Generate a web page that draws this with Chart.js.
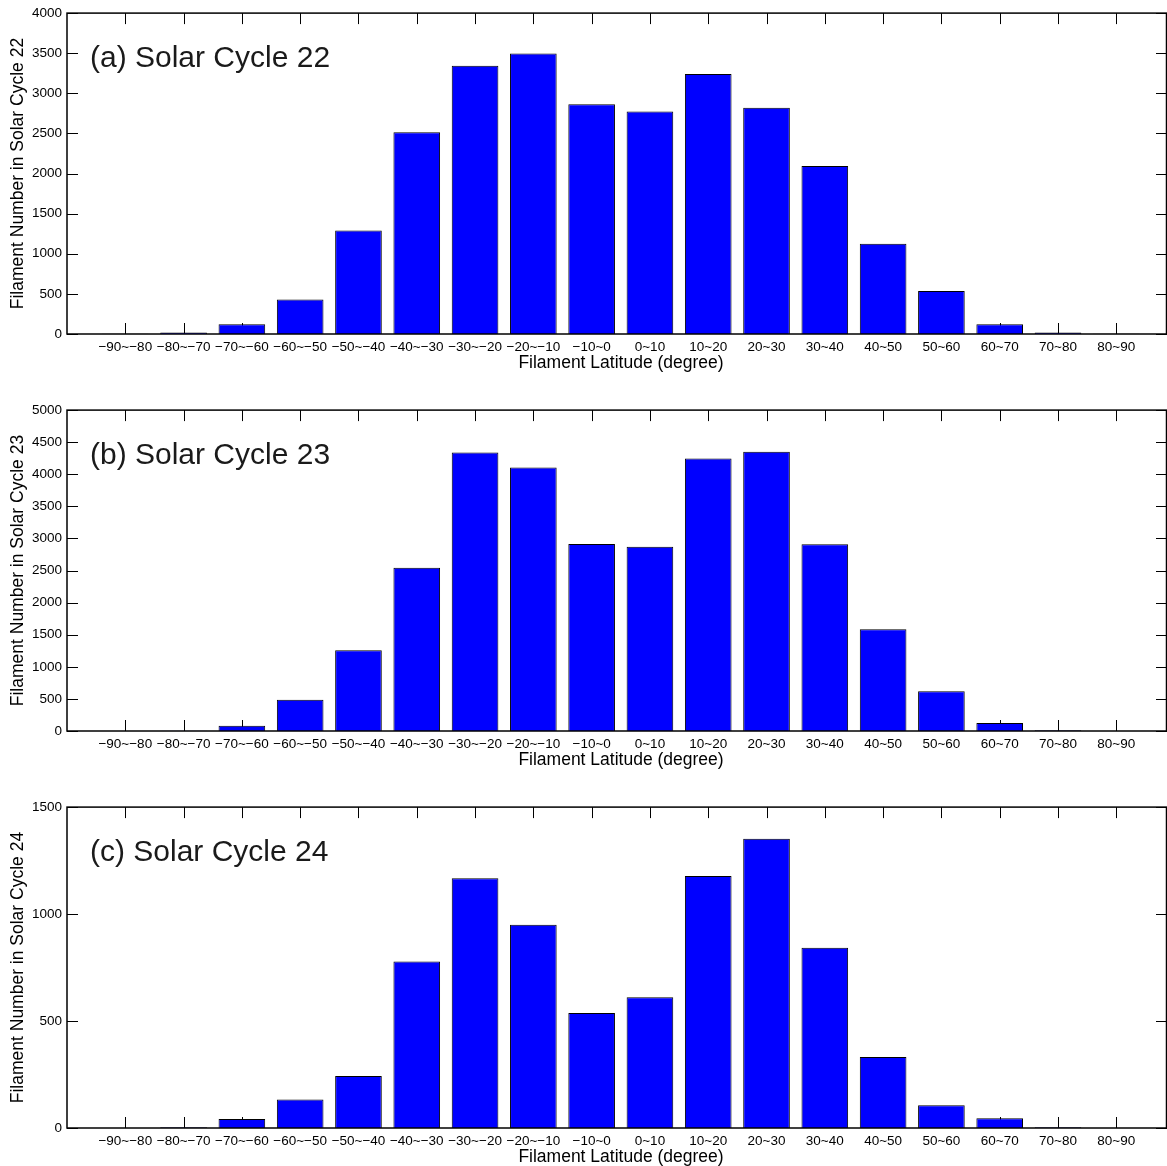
<!DOCTYPE html>
<html>
<head>
<meta charset="utf-8">
<script src="https://cdn.jsdelivr.net/npm/chart.js@4"></script>
<style>
  html, body { margin: 0; padding: 0; background: #fff; }
  #wrap { position: relative; width: 1167px; height: 1166px; overflow: hidden; }
  canvas { position: absolute; left: 0; }
</style>
</head>
<body>
<div id="wrap">
  <canvas id="c22" width="1167" height="397" style="top:0px"></canvas>
  <canvas id="c23" width="1167" height="397" style="top:397px"></canvas>
  <canvas id="c24" width="1167" height="372" style="top:794px"></canvas>
</div>
<script>
// Latitude bins (degrees), south to north
const latitudeBins = [
  '\u221290~\u221280', '\u221280~\u221270', '\u221270~\u221260', '\u221260~\u221250',
  '\u221250~\u221240', '\u221240~\u221230', '\u221230~\u221220', '\u221220~\u221210',
  '\u221210~0', '0~10', '10~20', '20~30', '30~40', '40~50', '50~60', '60~70', '70~80', '80~90'
];

// Filament counts per latitude bin
const cycle22 = [3, 20, 120, 430, 1290, 2515, 3345, 3495, 2865, 2775, 3240, 2820, 2095, 1125, 535, 120, 20, 3];
const cycle23 = [0, 5, 80, 485, 1260, 2545, 4340, 4105, 2915, 2870, 4245, 4350, 2910, 1585, 620, 125, 10, 0];
const cycle24 = [0, 3, 42, 133, 243, 778, 1168, 950, 537, 611, 1178, 1352, 843, 332, 106, 46, 3, 0];

// Y-axis tick values
const ticks22 = [0, 500, 1000, 1500, 2000, 2500, 3000, 3500, 4000];
const ticks23 = [0, 500, 1000, 1500, 2000, 2500, 3000, 3500, 4000, 4500, 5000];
const ticks24 = [0, 500, 1000, 1500];

const panelLabels = ['(a) Solar Cycle 22', '(b) Solar Cycle 23', '(c) Solar Cycle 24'];
const yTitles = ['Filament Number in Solar Cycle 22', 'Filament Number in Solar Cycle 23', 'Filament Number in Solar Cycle 24'];
const xTitle = 'Filament Latitude (degree)';

const FONT = '"Liberation Sans", Arial, Helvetica, sans-serif';
const X_MAX = 18.87;
const TICK_LEN = 11;

// Inward tick marks, frame, panel label and axis titles
const framePlugin = {
  id: 'frame',
  beforeDatasetsDraw(chart) {
    const { ctx, chartArea: a, scales: { x, y } } = chart;
    ctx.save();
    ctx.strokeStyle = '#000';
    ctx.lineWidth = 1;
    ctx.beginPath();
    x.ticks.forEach(t => {
      const px = Math.round(x.getPixelForValue(t.value)) + 0.5;
      ctx.moveTo(px, a.bottom); ctx.lineTo(px, a.bottom - TICK_LEN);
      ctx.moveTo(px, a.top); ctx.lineTo(px, a.top + TICK_LEN);
    });
    y.ticks.forEach(t => {
      const py = Math.round(y.getPixelForValue(t.value)) + 0.5;
      ctx.moveTo(a.left, py); ctx.lineTo(a.left + TICK_LEN, py);
      ctx.moveTo(a.right, py); ctx.lineTo(a.right - TICK_LEN, py);
    });
    ctx.stroke();
    ctx.restore();
  },
  afterDatasetsDraw(chart, args, opts) {
    const { ctx, chartArea: a } = chart;
    ctx.save();
    ctx.strokeStyle = '#000';
    ctx.lineWidth = 1.5;
    ctx.strokeRect(a.left, a.top, a.right - a.left - 0.5, a.bottom - a.top);

    ctx.fillStyle = '#1a1a1a';
    ctx.font = '30px ' + FONT;
    ctx.textAlign = 'left';
    ctx.textBaseline = 'alphabetic';
    ctx.fillText(opts.label, 90, a.top + 54);

    ctx.fillStyle = '#000';
    ctx.font = '17.5px ' + FONT;
    ctx.textAlign = 'center';
    ctx.textBaseline = 'middle';
    ctx.fillText(xTitle, (a.left + a.right) / 2 + 4, a.bottom + 29);

    ctx.translate(18, (a.top + a.bottom) / 2);
    ctx.rotate(-Math.PI / 2);
    ctx.fillText(opts.yTitle, 0, 0);
    ctx.restore();
  }
};

function buildPanel(id, counts, yTicks, label, yTitle) {
  const canvas = document.getElementById(id);
  const H = canvas.height;
  const plotBottom = 334;
  const points = counts.map((v, i) => ({ x: i + 1, y: v }));
  new Chart(canvas, {
    type: 'bar',
    data: {
      datasets: [{
        data: points,
        backgroundColor: '#0000ff',
        borderColor: '#000',
        borderWidth: 1,
        barPercentage: 0.8,
        categoryPercentage: 1
      }]
    },
    options: {
      responsive: false,
      animation: false,
      devicePixelRatio: 1,
      layout: { padding: { top: 11, left: 0, right: 0, bottom: 0 } },
      plugins: {
        legend: { display: false },
        tooltip: { enabled: false },
        frame: { label, yTitle }
      },
      scales: {
        x: {
          type: 'linear',
          offset: false,
          min: 0,
          max: X_MAX,
          grid: { display: false, drawTicks: false, offset: false },
          border: { display: false },
          afterBuildTicks: s => { s.ticks = latitudeBins.map((_, i) => ({ value: i + 1 })); },
          afterFit: s => { s.height = H - plotBottom; },
          ticks: {
            autoSkip: false,
            maxRotation: 0,
            padding: 5,
            color: '#000',
            font: { family: FONT, size: 13.5 },
            callback: v => latitudeBins[v - 1]
          }
        },
        y: {
          min: 0,
          max: yTicks[yTicks.length - 1],
          grid: { display: false, drawTicks: false },
          border: { display: false },
          afterBuildTicks: s => { s.ticks = yTicks.map(v => ({ value: v })); },
          afterFit: s => { s.width = 67; },
          ticks: {
            padding: 5,
            color: '#000',
            font: { family: FONT, size: 13.5 },
            callback: v => String(v)
          }
        }
      }
    },
    plugins: [framePlugin]
  });
}

buildPanel('c22', cycle22, ticks22, panelLabels[0], yTitles[0]);
buildPanel('c23', cycle23, ticks23, panelLabels[1], yTitles[1]);
buildPanel('c24', cycle24, ticks24, panelLabels[2], yTitles[2]);
</script>
</body>
</html>
